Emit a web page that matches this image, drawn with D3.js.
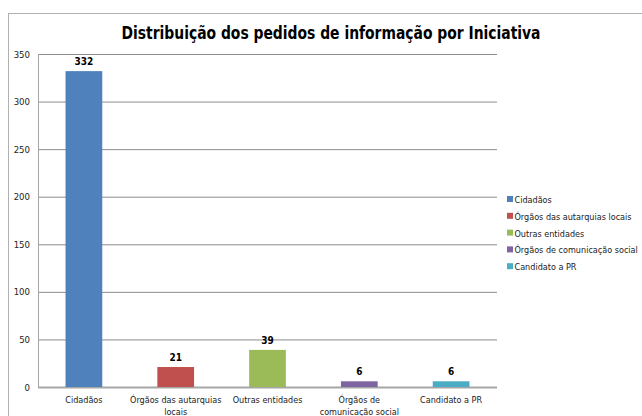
<!DOCTYPE html>
<html>
<head>
<meta charset="utf-8">
<script src="https://cdn.jsdelivr.net/npm/d3@7"></script>
<style>
  body { margin: 0; background: #fff; }
  text { font-family: "DejaVu Sans Condensed", sans-serif; }
</style>
</head>
<body>
<svg id="chart" width="642" height="416"></svg>
<script>
const categories = ["Cidadãos", "Órgãos das autarquias locais", "Outras entidades", "Órgãos de comunicação social", "Candidato a PR"],
    axisLabels = [["Cidadãos"], ["Órgãos das autarquias", "locais"], ["Outras entidades"], ["Órgãos de", "comunicação social"], ["Candidato a PR"]],
    values = [332, 21, 39, 6, 6],
    yTicks = [0, 50, 100, 150, 200, 250, 300, 350],
    colors = ["#4F81BD", "#C0504D", "#9BBB59", "#8064A2", "#4BACC6"];

var margin = {top: 54, left: 38, right: 145, bottom: 29},
    svg = d3.select("#chart"),
    width = 642 - margin.left - margin.right,
    height = 416 - margin.top - margin.bottom;

// outer frame (runs off the right and bottom edges)
svg.append("rect")
    .attr("x", 8.5).attr("y", 13.5)
    .attr("width", 700).attr("height", 500)
    .attr("fill", "none").attr("stroke", "#b0b0b0");

svg.append("text")
    .attr("x", 331).attr("y", 39)
    .attr("text-anchor", "middle")
    .attr("font-size", 18).attr("font-weight", "bold")
    .attr("textLength", 419).attr("lengthAdjust", "spacingAndGlyphs")
    .text("Distribuição dos pedidos de informação por Iniciativa");

var x = d3.scaleBand().domain(categories).range([0, width]).paddingInner(0.6).paddingOuter(0.3),
    y = d3.scaleLinear().domain([0, 350]).range([height, 0]);

var g = svg.append("g")
    .attr("transform", "translate(" + margin.left + "," + margin.top + ")");

// gridlines + y labels
g.append("g")
    .call(d3.axisLeft(y).tickValues(yTicks).tickSize(-width).tickPadding(8))
    .call(function(a) {
        a.select(".domain").remove();
        a.selectAll(".tick line").attr("stroke", function(d) { return d === 0 ? "none" : "#8c8c8c"; });
        a.selectAll(".tick text").attr("font-size", 9.5).attr("fill", "#222")
            .style("font-family", "'DejaVu Sans Condensed', sans-serif");
    });

g.append("line")
    .attr("x1", 0.5).attr("x2", 0.5).attr("y1", 0).attr("y2", height)
    .attr("stroke", "#a6a6a6");
g.append("line")
    .attr("x1", 0).attr("x2", width).attr("y1", height + 0.5).attr("y2", height + 0.5)
    .attr("stroke", "#a6a6a6").attr("stroke-width", 2);

g.selectAll(".bar")
    .data(values)
    .enter().append("rect")
    .attr("class", "bar")
    .attr("x", function(d, i) { return x(categories[i]); })
    .attr("y", function(d) { return y(d); })
    .attr("width", x.bandwidth())
    .attr("height", function(d) { return height - y(d); })
    .attr("fill", function(d, i) { return colors[i]; });

g.selectAll(".val")
    .data(values)
    .enter().append("text")
    .attr("x", function(d, i) { return x(categories[i]) + x.bandwidth() / 2; })
    .attr("y", function(d) { return y(d) - 6; })
    .attr("text-anchor", "middle")
    .attr("font-size", 10).attr("font-weight", "bold")
    .text(function(d) { return d; });

// category labels
var lbl = g.selectAll(".cat")
    .data(axisLabels)
    .enter().append("text")
    .attr("class", "cat")
    .attr("text-anchor", "middle")
    .attr("font-size", 9).attr("fill", "#222")
    .attr("transform", function(d, i) {
        return "translate(" + (x(categories[i]) + x.bandwidth() / 2) + "," + (height + 16) + ")";
    });
lbl.selectAll("tspan")
    .data(function(d) { return d; })
    .enter().append("tspan")
    .attr("x", 0)
    .attr("dy", function(d, j) { return j === 0 ? 0 : 12; })
    .text(function(d) { return d; });

// legend
var leg = svg.append("g").attr("transform", "translate(507,196)");
categories.forEach(function(c, i) {
    var row = leg.append("g").attr("transform", "translate(0," + (i * 16.8) + ")");
    row.append("rect").attr("width", 6).attr("height", 6).attr("fill", colors[i]);
    row.append("text").attr("x", 7.5).attr("y", 7).attr("font-size", 9).attr("fill", "#222").text(c);
});
</script>
</body>
</html>
